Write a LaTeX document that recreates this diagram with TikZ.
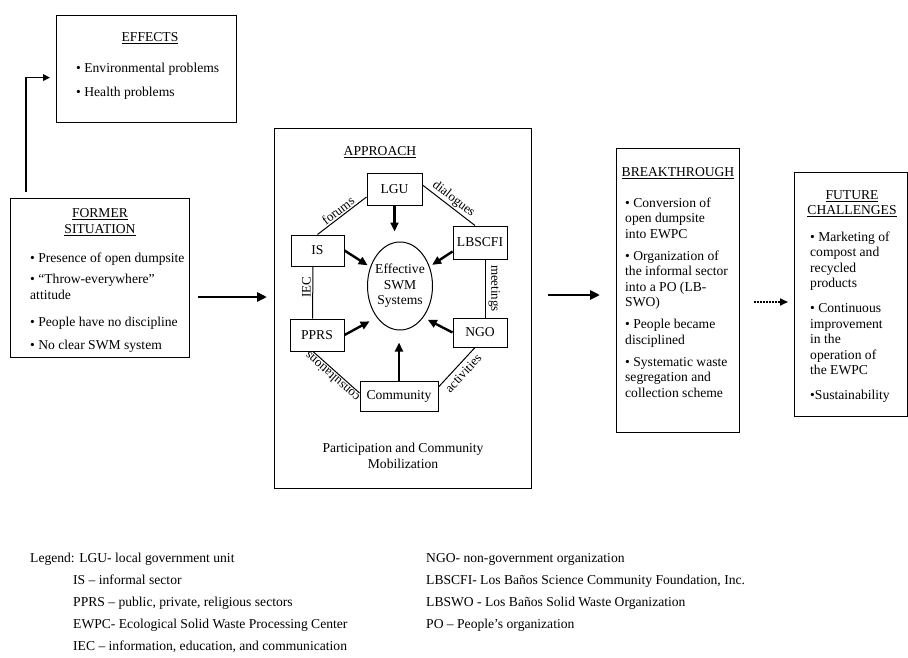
\documentclass[tikz,border=0pt]{standalone}
\usepackage{fontspec}
\setmainfont{Liberation Serif}
\usetikzlibrary{arrows.meta}
\usetikzlibrary{shapes.geometric}
\usetikzlibrary{positioning}
\tikzset{
    panel/.style={draw, line width=1.2pt, inner sep=0pt, anchor=north west},
    actor/.style={draw, line width=1pt, minimum height=31pt, inner sep=2pt},
    items/.style={align=left, inner sep=0pt, anchor=north west},
    heading/.style={align=center, inner sep=0pt},
    legendline/.style={anchor=base west, inner sep=0pt},
    talk/.style={line width=1pt},
    tag/.style={font=\fontsize{13}{14}\selectfont, inner sep=1.5pt},
    push/.style={line width=2.4pt, -{Triangle[length=9pt,width=8pt]}},
    flow/.style={line width=2.6pt, -{Triangle[length=10pt,width=9pt]}},
    hint/.style={line width=1.8pt, dash pattern=on 2pt off 1pt, -{Triangle[length=8pt,width=7pt]}},
    link/.style={line width=1.8pt, -{Triangle[length=7pt,width=6.5pt]}}
}
\begin{document}
\begin{tikzpicture}[x=1pt, y=-1pt, font=\fontsize{13.6}{15.5}\selectfont]
  \useasboundingbox (0,0) rectangle (908,658);
  % panels
  \node[panel, minimum width=180pt, minimum height=107pt] (effects) at (56,15) {};
  \node[panel, minimum width=179pt, minimum height=159pt] (former) at (10,198) {};
  \node[panel, minimum width=257pt, minimum height=360pt] (approach) at (274,128) {};
  \node[panel, minimum width=123pt, minimum height=284pt] (breakthrough) at (616,148) {};
  \node[panel, minimum width=113pt, minimum height=244pt] (future) at (794,172) {};
  % effects
  \node[heading, anchor=base] (effectstitle) at (150,41.5) {\underline{EFFECTS}};
  \node[items] (effectslist) at (76,62.7) {• Environmental problems\\[8.5pt]• Health problems};
  % former situation
  \node[heading, anchor=north] (formertitle) at (100,208.7) {\underline{FORMER}\\\underline{SITUATION}};
  \node[items] (formerlist) at (30,252.7) {• Presence of open dumpsite\\[6pt]• “Throw-everywhere”\\attitude\\[12pt]• People have no discipline\\[7pt]• No clear SWM system};
  % approach
  \node[heading, anchor=base] (approachtitle) at (380,155.5) {\underline{APPROACH}};
  \node[actor, minimum width=55pt] (lgu) at (394.5,189.5) {LGU};
  \node[actor, minimum width=53pt] (is) at (317.5,250.5) {IS};
  \node[actor, minimum width=54pt, minimum height=33pt] (lbscfi) at (480,242.5) {LBSCFI};
  \node[actor, minimum width=54pt, minimum height=32pt] (ppr) at (317,335) {PPRS};
  \node[actor, minimum width=54pt, minimum height=29pt] (ngo) at (480,332.5) {NGO};
  \node[actor, minimum width=78pt, minimum height=30pt] (community) at (399,396) {Community};
  \node[draw, ellipse, line width=1pt, minimum width=65pt, minimum height=88pt, inner sep=0pt] (swm) at (400,286) {};
  \node[heading] (swmtext) at (swm) {Effective\\SWM\\Systems};
  \node[heading, anchor=north] (approachnote) at (403,443) {Participation and Community\\Mobilization};
  % ring of talks
  \draw[talk] (is.north) -- ([yshift=-7.5pt]lgu.west) node[midway, sloped, above, tag] {forums};
  \draw[talk] ([yshift=4.5pt]lgu.east) -- ([xshift=-5pt]lbscfi.north) node[midway, sloped, above, tag] {dialogues};
  \draw[talk] ([xshift=-4.5pt]is.south) -- ([xshift=-4.5pt]ppr.north) node[pos=0.4, rotate=90, above, tag] {IEC};
  \draw[talk] ([xshift=5pt]lbscfi.south) -- ([xshift=5pt]ngo.north) node[midway, rotate=-90, above, tag, inner sep=3pt] {meetings};
  \draw[talk] ([yshift=3pt]community.west) -- ([xshift=-4pt]ppr.south) node[midway, sloped, above, allow upside down, tag] {consultations};
  \draw[talk] ([yshift=9pt]community.east) -- ([xshift=-5pt]ngo.south) node[midway, sloped, below, tag, inner sep=4pt] {activities};
  % arrows into the systems
  \draw[push, shorten >=10pt] (lgu) -- (lgu |- swm.north);
  \draw[push, shorten >=3pt] (is.east) -- (swm);
  \draw[push, shorten >=3pt] ([yshift=-9pt]lbscfi.west) -- (swm);
  \draw[push, shorten >=8pt] (ppr.east) -- (swm.south west);
  \draw[push, shorten >=5pt] (ngo.west) -- (swm.south east);
  \draw[push, shorten >=12pt] (community) -- (community |- swm.south);
  % breakthrough
  \node[heading, anchor=base] (breaktitle) at (678,176.5) {\underline{BREAKTHROUGH}};
  \node[items] (breaklist) at (625,197.7) {• Conversion of\\open dumpsite\\into EWPC\\[6.5pt]• Organization of\\the informal sector\\into a PO (LB-\\SWO)\\[6.5pt]• People became\\disciplined\\[6.5pt]• Systematic waste\\segregation and\\collection scheme};
  % future challenges
  \node[heading, anchor=north] (futuretitle) at (852,190.2) {\underline{FUTURE}\\\underline{CHALLENGES}};
  \node[items] (futurelist) at (810,231.7) {• Marketing of\\compost and\\recycled\\products\\[9.5pt]• Continuous\\improvement\\in the\\operation of\\the EWPC\\[9.5pt]•Sustainability};
  % main flow
  \coordinate (leftrow) at (0,297);
  \coordinate (rightrow) at (0,295);
  \coordinate (lastrow) at (0,302);
  \draw[link] ([xshift=16pt, yshift=6pt]former.north west) |- ([xshift=-6pt, yshift=-8.5pt]effects.west);
  \draw[flow, shorten <=8pt, shorten >=7pt] (former.east |- leftrow) -- (approach.west |- leftrow);
  \draw[flow, shorten <=16pt, shorten >=16pt] (approach.east |- rightrow) -- (breakthrough.west |- rightrow);
  \draw[hint, shorten <=14pt, shorten >=6pt] (breakthrough.east |- lastrow) -- (future.west |- lastrow);
  % legend
  \node[legendline] (legend1) at (30,562.5) {Legend: LGU- local government unit};
  \node[legendline] (legend2) at (73,584.5) {IS – informal sector};
  \node[legendline] (legend3) at (73,606.5) {PPRS – public, private, religious sectors};
  \node[legendline] (legend4) at (73,628.5) {EWPC- Ecological Solid Waste Processing Center};
  \node[legendline] (legend5) at (73,650.5) {IEC – information, education, and communication};
  \node[legendline] (legend6) at (426,562.5) {NGO- non-government organization};
  \node[legendline] (legend7) at (426,584.5) {LBSCFI- Los Baños Science Community Foundation, Inc.};
  \node[legendline] (legend8) at (426,606.5) {LBSWO - Los Baños Solid Waste Organization};
  \node[legendline] (legend9) at (426,628.5) {PO – People’s organization};
\end{tikzpicture}
\end{document}
